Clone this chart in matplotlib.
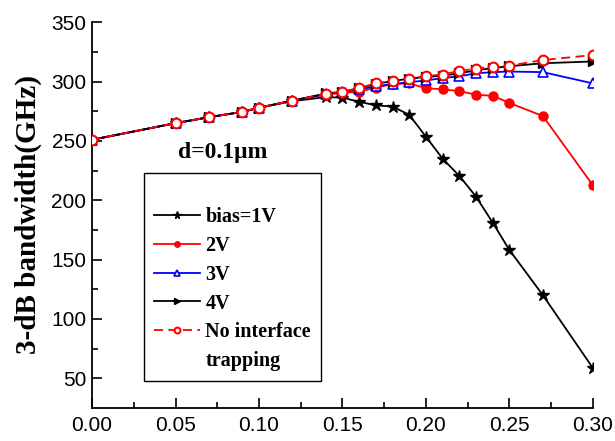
import matplotlib
matplotlib.use("Agg")
import matplotlib.pyplot as plt
from matplotlib.lines import Line2D
from matplotlib.ticker import MultipleLocator, FormatStrFormatter

x = [0, 0.05, 0.07, 0.09, 0.10, 0.12, 0.14, 0.15, 0.16, 0.17, 0.18, 0.19,
     0.20, 0.21, 0.22, 0.23, 0.24, 0.25, 0.27, 0.30]
bias_1v = [251, 265, 270, 274.5, 278, 283.5, 287, 286.5, 283, 280, 279, 272,
           253.5, 235, 220.5, 203, 181, 158, 120, 58.5]
bias_2v = [251, 265, 270, 274.5, 278, 284, 289, 290.5, 291.5, 295, 298, 298.5,
           294.5, 293.5, 292, 289, 288, 282, 271, 212.5]
bias_3v = [251, 265, 270, 274.5, 278, 284, 289.5, 291, 293.5, 296, 298, 299.5,
           301, 303, 304.5, 307, 308, 308.5, 308, 298.5]
bias_4v = [251, 265, 270, 274.5, 278, 284, 290, 291.5, 294.5, 298, 300.5, 302.5,
           304, 305, 307, 309.5, 311.5, 313, 315.5, 317]
no_trap = [251, 265, 270, 274.7, 278, 284, 289.6, 291.5, 294.5, 298.6, 300.5, 302.2,
           304.7, 306, 309, 311, 312.6, 313.5, 318.2, 322.4]

labels = ["bias=1V", "2V", "3V", "4V", "No interface", "trapping"]
xticks = [0.00, 0.05, 0.10, 0.15, 0.20, 0.25, 0.30]
yticks = [50, 100, 150, 200, 250, 300, 350]

fig = plt.figure(figsize=(6.15, 4.41), dpi=100)
ax = fig.add_axes([92/615, 1-407.7/441, 501/615, 385.4/441])

lw = 1.3
h1, = ax.plot(x, bias_1v, color="black", lw=lw, marker="*", ms=9, mfc="black", mec="black",
              zorder=3)
h2, = ax.plot(x, bias_2v, color="red", lw=lw, marker="o", ms=6.5, mfc="red", mec="red",
              zorder=4)
h3, = ax.plot(x, bias_3v, color="blue", lw=lw, marker="^", ms=7, mfc="white", mec="blue",
              mew=1.2, zorder=5)
h4, = ax.plot(x, bias_4v, color="black", lw=lw, marker=">", ms=6.5, mfc="black", mec="black",
              zorder=6)
h5, = ax.plot(x, no_trap, color="red", lw=lw, ls=(0, (5, 3)), marker="o", ms=7, mfc="white",
              mec="red", mew=1.5, zorder=7)
blank = Line2D([], [], lw=0, marker=None)

ax.set_xlim(0, 0.30)
ax.set_ylim(25.2, 350)
ax.set_xticks(xticks)
ax.set_yticks(yticks)
ax.xaxis.set_minor_locator(MultipleLocator(0.025))
ax.yaxis.set_minor_locator(MultipleLocator(25))
ax.xaxis.set_major_formatter(FormatStrFormatter("%.2f"))

for s in ["top", "right"]:
    ax.spines[s].set_visible(False)
for s in ["left", "bottom"]:
    ax.spines[s].set_linewidth(1.3)
    ax.spines[s].set_clip_on(False)

ax.tick_params(which="major", direction="in", length=7, width=1.2,
               labelsize=15, pad=5)
ax.tick_params(which="minor", direction="in", length=4.5, width=1.2)
for lab in ax.get_xticklabels() + ax.get_yticklabels():
    lab.set_fontfamily("Liberation Sans")
ax.tick_params(axis="y", pad=4)
ax.tick_params(axis="x", pad=6)

ax.set_ylabel("3-dB bandwidth(GHz)", fontfamily="Liberation Serif",
              fontweight="bold", fontsize=21, labelpad=7)

ax.text(0.078, 240, "d=0.1\u03bcm", fontfamily="Liberation Serif", fontweight="bold",
        fontsize=17, ha="center", va="center")

leg = ax.legend([h1, h2, h3, h4, h5, blank], labels,
                loc="upper left", bbox_to_anchor=(0.1038, 0.609), borderaxespad=0,
                prop={"family": "Liberation Serif", "weight": "bold", "size": 14.5},
                title=" ", title_fontsize=10.5,
                frameon=True, fancybox=False, edgecolor="black", framealpha=1,
                handlelength=2.3, handletextpad=0.25, labelspacing=0.44,
                borderpad=0.5, markerscale=0.6)
leg.get_frame().set_linewidth(1.0)

fig.savefig("out.png", dpi=100)
